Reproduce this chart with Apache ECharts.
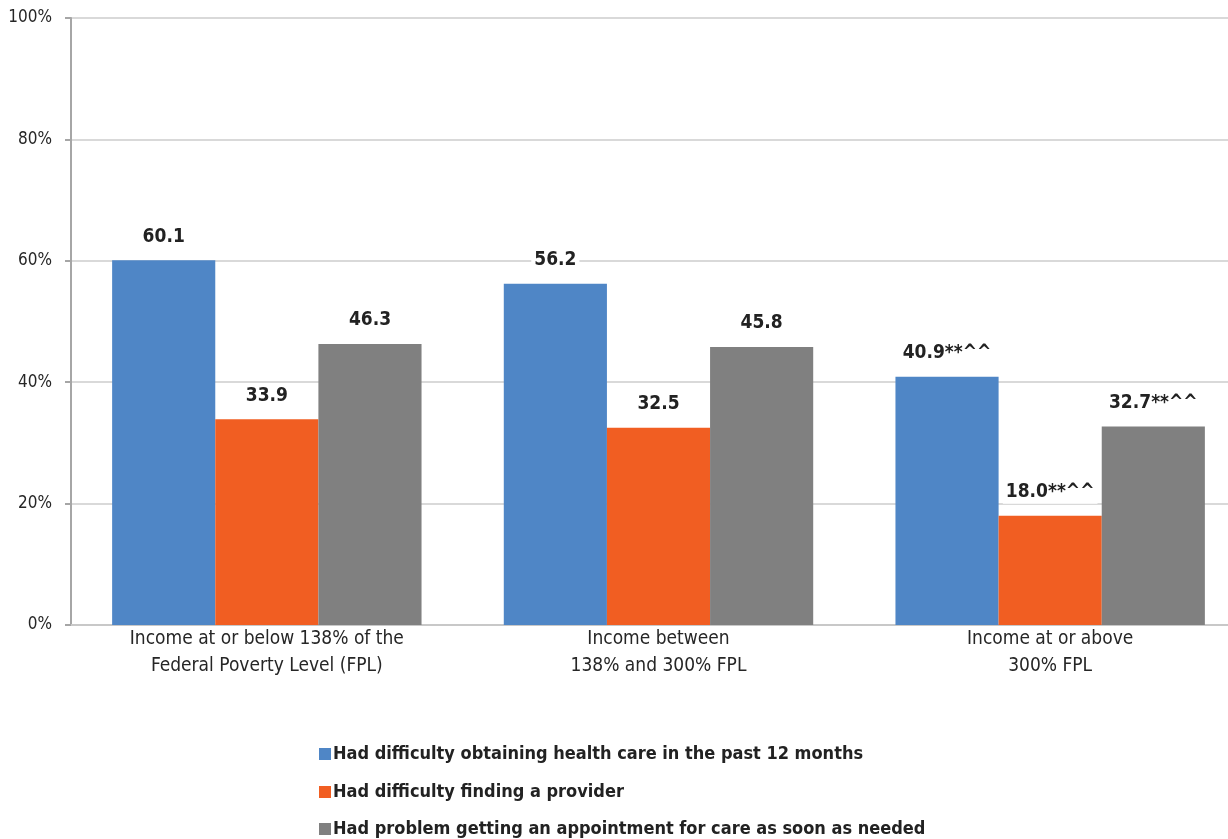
<!DOCTYPE html>
<html>
<head>
<meta charset="utf-8">
<title>Access to care by income</title>
<script src="https://cdn.jsdelivr.net/npm/echarts@6/dist/echarts.min.js"></script>
<style>
  html, body { margin: 0; padding: 0; background: #fff; overflow: hidden; }
  /* the plot runs slightly past the right edge of the window */
  #chart { width: 1246px; height: 839px; }
</style>
</head>
<body>
<div id="chart"></div>
<script>
// Income groups on the category axis
var categories = [
  'Income at or below 138% of the\nFederal Poverty Level (FPL)',
  'Income between\n138% and 300% FPL',
  'Income at or above\n300% FPL'
];

// Series names
var seriesNames = [
  'Had difficulty obtaining health care in the past 12 months',
  'Had difficulty finding a provider',
  'Had problem getting an appointment for care as soon as needed'
];

// Percent of adults, per income group
var obtainingCare = [60.1, 56.2, 40.9];
var findingProvider = [33.9, 32.5, 18.0];
var gettingAppointment = [46.3, 45.8, 32.7];

// Significance markers appended to each value label
var obtainingMarks = ['', '', '**^^'];
var providerMarks = ['', '', '**^^'];
var appointmentMarks = ['', '', '**^^'];

var yTicks = [0, 20, 40, 60, 80, 100];

var colors = ['#4F86C6', '#F15E22', '#808080'];
var FONT = '"Liberation Sans Narrow", "DejaVu Sans Condensed", sans-serif';

function makeSeries(name, values, marks, color) {
  return {
    name: name,
    type: 'bar',
    data: values,
    barGap: '0%',
    barCategoryGap: '21%',
    itemStyle: { color: color },
    label: {
      show: true,
      position: 'top',
      distance: 12,
      fontFamily: FONT,
      fontWeight: 'bold',
      fontSize: 19,
      color: '#222222',
      backgroundColor: '#ffffff',
      padding: [2, 3],
      formatter: function (p) {
        return values[p.dataIndex].toFixed(1) + marks[p.dataIndex];
      }
    }
  };
}

// One single-entry legend per series, stacked down the page
function makeLegend(index, top) {
  return {
    orient: 'vertical',
    left: 314,
    top: top,
    itemWidth: 12,
    itemHeight: 12,
    icon: 'rect',
    data: [seriesNames[index]],
    textStyle: {
      fontFamily: FONT,
      fontWeight: 'bold',
      fontSize: 18,
      color: '#222222',
      padding: [0, 0, 0, -3]
    }
  };
}

var chart = echarts.init(document.getElementById('chart'));
chart.setOption({
  animation: false,
  color: colors,
  grid: { left: 71, right: 0, top: 18, bottom: 214, containLabel: false },
  xAxis: {
    type: 'category',
    data: categories,
    axisLine: { show: true, lineStyle: { color: '#c8c8c8', width: 2 } },
    axisTick: { show: false },
    axisLabel: {
      fontFamily: FONT,
      fontSize: 19,
      lineHeight: 27,
      color: '#262626',
      margin: 1
    }
  },
  yAxis: {
    type: 'value',
    min: yTicks[0],
    max: yTicks[yTicks.length - 1],
    interval: 20,
    axisLine: { show: true, lineStyle: { color: '#a6a6a6', width: 2 } },
    axisTick: { show: true, length: 6, lineStyle: { color: '#a6a6a6', width: 2 } },
    splitLine: { show: true, lineStyle: { color: '#d9d9d9', width: 2 } },
    axisLabel: {
      fontFamily: FONT,
      fontSize: 17,
      color: '#262626',
      margin: 19,
      formatter: function (v) { return v + '%'; }
    }
  },
  legend: [makeLegend(0, 740), makeLegend(1, 778), makeLegend(2, 815)],
  series: [
    makeSeries(seriesNames[0], obtainingCare, obtainingMarks, colors[0]),
    makeSeries(seriesNames[1], findingProvider, providerMarks, colors[1]),
    makeSeries(seriesNames[2], gettingAppointment, appointmentMarks, colors[2])
  ]
});
</script>
</body>
</html>
